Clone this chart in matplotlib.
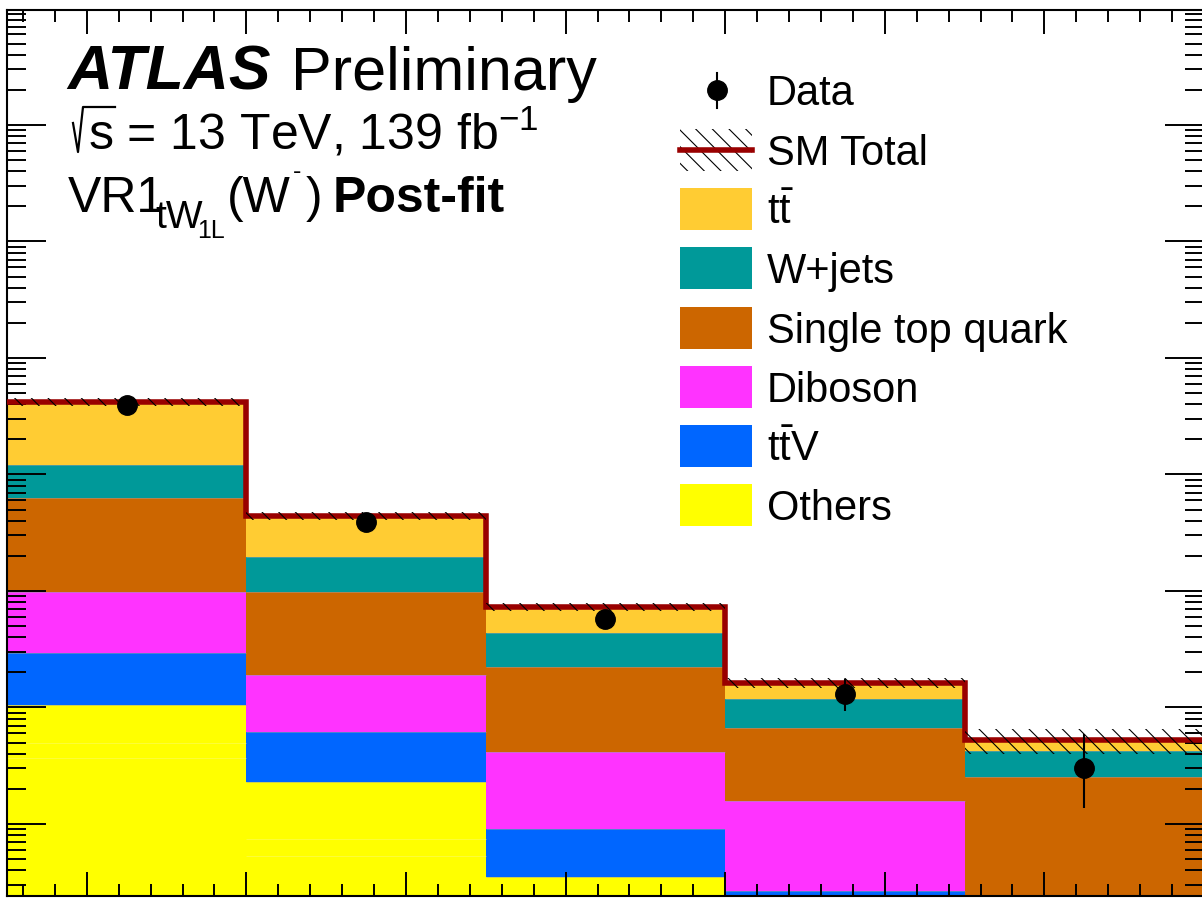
import matplotlib
matplotlib.use("Agg")
import matplotlib.pyplot as plt
import numpy as np
from matplotlib.lines import Line2D
from matplotlib.patches import Rectangle
from matplotlib.ticker import LogLocator, MultipleLocator, NullFormatter

plt.rcParams["font.family"] = ["Liberation Sans", "DejaVu Sans"]
plt.rcParams["mathtext.fontset"] = "custom"
plt.rcParams["mathtext.rm"] = "Liberation Sans"
plt.rcParams["mathtext.it"] = "Liberation Sans:italic"
plt.rcParams["mathtext.bf"] = "Liberation Sans:bold"
plt.rcParams["hatch.linewidth"] = 0.8
plt.rcParams["hatch.color"] = "black"

# bin edges (axis labels are cropped in the reference)
BIN_EDGES = [250, 400, 550, 700, 850, 1000]

# stacked backgrounds, bottom to top ("others" is three same-colour pieces)
OTHERS_A = [3.69, 0.53, 0.10, 0.08, 0.03]
OTHERS_B = [1.27, 0.21, 0.05, 0.04, 0.02]
OTHERS_C = [5.55, 1.55, 0.20, 0.08, 0.02]
TTV = [18.9, 3.9, 0.555, 0.066, 0.03]
DIBOSON = [68.6, 12.8, 3.24, 1.31, 0.10]
SINGLE_TOP = [531, 79, 18.15, 5.1, 2.33]
WJETS = [578, 98, 21.3, 5.1, 1.70]
TTBAR = [2983, 244, 29.3, 4.4, 1.03]
SM_ERR = [300, 35, 6, 1.6, 1.3]

DATA = [3950, 391, 57, 13, 3]
DATA_ERR_LO = [63, 19.8, 7.5, 3.6, 1.63]
DATA_ERR_HI = [64, 20.8, 8.6, 4.7, 2.92]

COLORS = {
    "others": "#ffff00",
    "ttv": "#0066ff",
    "diboson": "#ff33ff",
    "single_top": "#cc6600",
    "wjets": "#009999",
    "ttbar": "#ffcc33",
}

LEGEND_LABELS = [
    ("ttbar", r"t$\bar{\mathrm{t}}$"),
    ("wjets", "W+jets"),
    ("single_top", "Single top quark"),
    ("diboson", "Diboson"),
    ("ttv", r"t$\bar{\mathrm{t}}$V"),
    ("others", "Others"),
]

W, H = 1202, 898


def fx(x):
    return x / W


def fy(y):
    return 1 - y / H


def label(x, y, text, size, **kwargs):
    fig.text(fx(x), fy(y), text, fontsize=size, va="baseline", **kwargs)


fig = plt.figure(figsize=(W / 100, H / 100), dpi=100)
ax = fig.add_axes([7 / W, 2 / H, 1197 / W, 886 / H])
ax.set_yscale("log")
ax.set_xlim(250, 1000)
ax.set_ylim(0.241, 9.7e6)

edges = np.array(BIN_EDGES, dtype=float)
layers = [
    (OTHERS_A, COLORS["others"], "#fbfb70"),
    (OTHERS_B, COLORS["others"], "#fbfb70"),
    (OTHERS_C, COLORS["others"], "#9aa0a0"),
    (TTV, COLORS["ttv"], "#9aa0a0"),
    (DIBOSON, COLORS["diboson"], "#9aa0a0"),
    (SINGLE_TOP, COLORS["single_top"], "#9aa0a0"),
    (WJETS, COLORS["wjets"], "#9aa0a0"),
    (TTBAR, COLORS["ttbar"], "#9aa0a0"),
]

bottom = np.full(len(DATA), 1e-3)
for values, color, sep in layers:
    top = bottom + np.array(values)
    ax.stairs(top, edges, baseline=bottom, fill=True, color=color, lw=0, zorder=1)
    ax.hlines(top, edges[:-1], edges[1:], color=sep, lw=0.6, alpha=0.6, zorder=1.5)
    bottom = top
total = bottom

ax.stairs(total, edges, baseline=None, color="#990000", lw=4, zorder=3)
ax.stairs(total + np.array(SM_ERR), edges, baseline=total - np.array(SM_ERR),
          fill=True, facecolor="none", edgecolor="black", hatch="\\\\", lw=0, zorder=4)

centers = 0.5 * (edges[:-1] + edges[1:])
ax.errorbar(centers, DATA, yerr=[DATA_ERR_LO, DATA_ERR_HI], fmt="o", color="black",
            ms=14, elinewidth=1.5, capsize=0, zorder=5)

ax.xaxis.set_major_locator(MultipleLocator(100))
ax.xaxis.set_minor_locator(MultipleLocator(20))
ax.yaxis.set_major_locator(LogLocator(base=10, numticks=20))
ax.yaxis.set_minor_locator(LogLocator(base=10, subs=np.arange(2, 10), numticks=20))
ax.yaxis.set_minor_formatter(NullFormatter())
ax.tick_params(which="both", direction="in", top=True, right=True,
               labelbottom=False, labelleft=False, width=1.4)
ax.tick_params(axis="y", which="major", length=28)
ax.tick_params(axis="y", which="minor", length=14)
ax.tick_params(axis="x", which="major", length=17)
ax.tick_params(axis="x", which="minor", length=8.6)
for spine in ax.spines.values():
    spine.set_linewidth(1.5)

# ATLAS label block
label(67, 90, "ATLAS", 45, fontweight="bold", fontstyle="italic")
label(291, 90, "Preliminary", 44)

# ROOT-style square root sign
fig.add_artist(Line2D([fx(73), fx(78), fx(83), fx(115)], [fy(123), fy(152), fy(107), fy(107)],
                      color="black", lw=1.6, transform=fig.transFigure))
label(88, 150, r"s = 13 TeV, 139 fb$^{-1}$", 36)

label(68, 212, "VR1", 36)
label(155, 228, "tW", 28)
label(197, 238, "1L", 18)
label(227, 212, "(W", 36)
label(293, 179, "-", 18)
label(306, 212, ")", 36)
label(333, 212, "Post-fit", 36, fontweight="bold")

# legend
row_y = [90, 150, 209, 268, 328, 387, 446, 505]
box_x, box_w, box_h, text_x = 680, 72, 42, 767

fig.add_artist(Line2D([fx(717), fx(717)], [fy(73), fy(108)], color="black", lw=1.5,
                      transform=fig.transFigure))
fig.add_artist(Line2D([fx(717)], [fy(90)], marker="o", ms=14, color="black",
                      transform=fig.transFigure))
label(text_x, row_y[0] + 15, "Data", 30)

fig.add_artist(Rectangle((fx(box_x), fy(row_y[1] + box_h / 2)), box_w / W, box_h / H,
                         facecolor="none", edgecolor="black", hatch="\\\\", lw=0,
                         transform=fig.transFigure))
fig.add_artist(Line2D([fx(box_x), fx(box_x + box_w)], [fy(row_y[1])] * 2, color="#990000",
                      lw=4, transform=fig.transFigure))
label(text_x, row_y[1] + 15, "SM Total", 30)

for (key, text), yc in zip(LEGEND_LABELS, row_y[2:]):
    fig.add_artist(Rectangle((fx(box_x), fy(yc + box_h / 2)), box_w / W, box_h / H,
                             facecolor=COLORS[key], lw=0, transform=fig.transFigure))
    label(text_x, yc + 15, text, 30)

fig.savefig("out.png", dpi=100)
